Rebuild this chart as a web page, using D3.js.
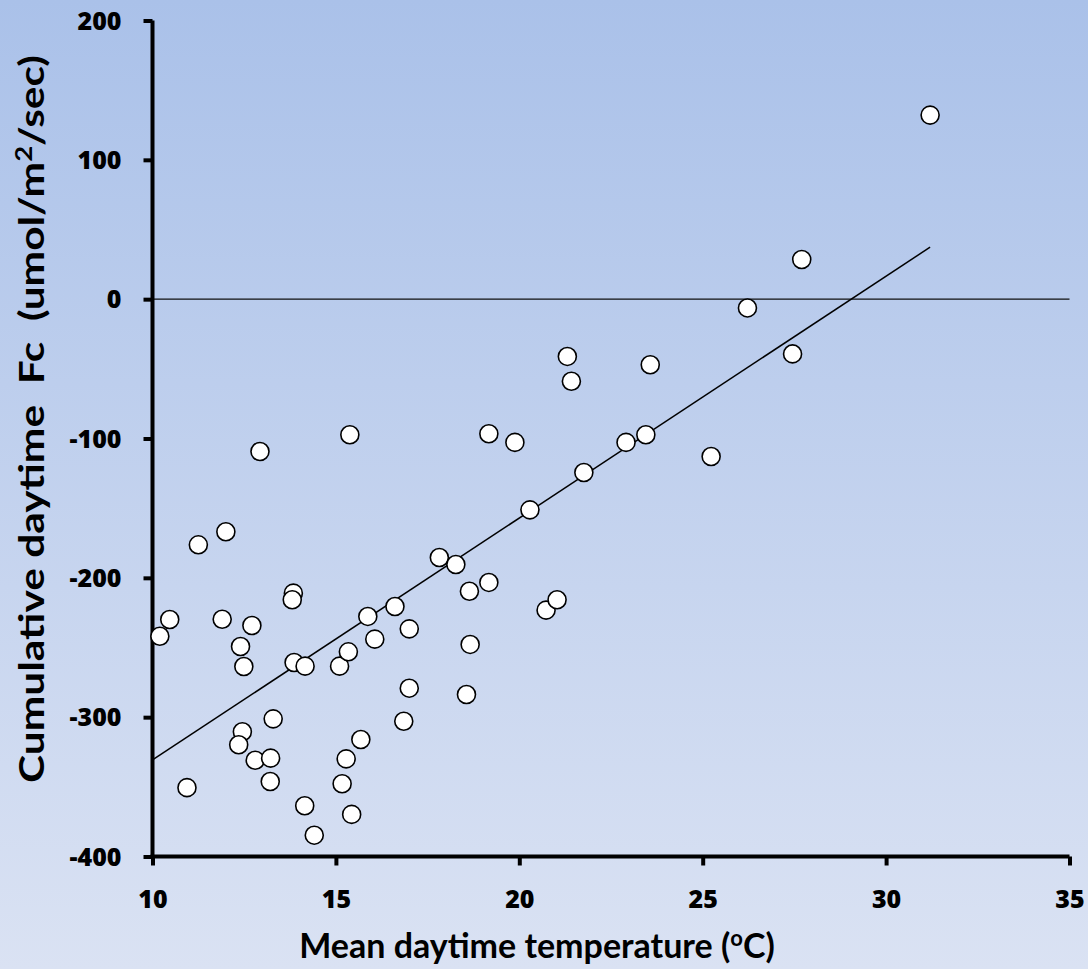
<!DOCTYPE html>
<html>
<head>
<meta charset="utf-8">
<script src="https://cdn.jsdelivr.net/npm/d3@7"></script>
<style>
  html, body { margin: 0; padding: 0; }
  body { width: 1088px; height: 969px; overflow: hidden; }
  text { font-family: Lato, "Open Sans", sans-serif; font-weight: bold; fill: #000; white-space: pre; }
</style>
</head>
<body>
<div id="viz"></div>
<script>
// mean daytime temperature (C)
var temps = [10.20, 10.47, 10.94, 11.25, 11.90, 12.00, 12.93, 12.71, 12.40, 12.49,
             12.45, 12.35, 12.80, 13.22, 13.29, 13.21, 13.84, 13.81, 13.86, 14.16,
             14.15, 14.41, 15.10, 15.34, 15.38, 15.17, 15.28, 15.43, 15.68, 15.87,
             16.06, 16.61, 17.00, 17.00, 16.85, 17.82, 18.27, 18.64, 18.66, 18.56,
             19.17, 19.17, 19.88, 20.29, 20.73, 21.03, 21.31, 21.42, 21.76, 22.91,
             23.45, 23.57, 25.23, 26.22, 27.45, 27.70, 31.20];
// cumulative daytime Fc
var fluxes = [-241.9, -229.9, -350.6, -176.3, -229.7, -166.9, -109.3, -234.2, -249.3, -263.6,
              -310.5, -319.8, -330.9, -329.4, -301.2, -346.2, -211.0, -215.7, -260.8, -263.4,
              -363.6, -384.7, -263.4, -253.1, -97.3, -347.8, -329.9, -369.8, -316.0, -227.7,
              -244.0, -220.6, -236.6, -279.2, -302.9, -185.4, -190.4, -209.6, -247.8, -283.7,
              -96.6, -203.3, -102.8, -151.2, -223.2, -215.7, -41.1, -58.9, -124.4, -102.8,
              -97.3, -47.1, -112.9, -6.3, -39.3, 28.5, 132.1];

var xTicks = [10, 15, 20, 25, 30, 35];
var yTicks = [-400, -300, -200, -100, 0, 100, 200];

// linear trend as drawn on the chart
var trendSlope = 17.36,
    trendIntercept = -504.3,
    trendRange = [10, 31.2];

var width = 1088,
    height = 969;

var x = d3.scaleLinear().domain([10, 35]).range([152.5, 1069.5]);
var y = d3.scaleLinear().domain([-400, 200]).range([856.5, 20.5]);

var svg = d3.select("#viz").append("svg")
    .attr("width", width)
    .attr("height", height);

var grad = svg.append("defs").append("linearGradient")
    .attr("id", "bg")
    .attr("x1", 0).attr("y1", 0).attr("x2", 0).attr("y2", 1);
grad.append("stop").attr("offset", "0%").attr("stop-color", "#aac1e9");
grad.append("stop").attr("offset", "100%").attr("stop-color", "#dae2f3");

svg.append("rect")
    .attr("width", width)
    .attr("height", height)
    .attr("fill", "url(#bg)");

// zero line
svg.append("line")
    .attr("x1", x(10)).attr("x2", x(35))
    .attr("y1", y(0)).attr("y2", y(0))
    .style("stroke", "#111")
    .style("stroke-width", 1.3);

// trend line
svg.append("line")
    .attr("x1", x(trendRange[0]))
    .attr("y1", y(trendSlope * trendRange[0] + trendIntercept))
    .attr("x2", x(trendRange[1]))
    .attr("y2", y(trendSlope * trendRange[1] + trendIntercept))
    .style("stroke", "#000")
    .style("stroke-width", 1.5);

// axes (plain hyphen for negatives, like the original)
var plain = function(d) { return String(d); };
var xAxis = svg.append("g")
    .attr("transform", "translate(0," + y(-400) + ")")
    .call(d3.axisBottom(x).tickValues(xTicks).tickFormat(plain)
            .tickSize(9).tickPadding(25).tickSizeOuter(0));
var yAxis = svg.append("g")
    .attr("transform", "translate(" + x(10) + ",0)")
    .call(d3.axisLeft(y).tickValues(yTicks).tickFormat(plain)
            .tickSize(9).tickPadding(22).tickSizeOuter(0));

[xAxis, yAxis].forEach(function(ax) {
    ax.select(".domain").style("stroke", "#000").style("stroke-width", 4);
    ax.selectAll(".tick line").style("stroke", "#000").style("stroke-width", 4);
    ax.selectAll(".tick text")
      .style("font-family", "'Open Sans', sans-serif")
      .style("font-weight", "800")
      .style("font-size", "25px")
      .style("fill", "#000");
});
xAxis.select(".domain").attr("d", "M" + (x(10) - 2) + ",0H" + x(35));
yAxis.select(".domain").attr("d", "M0," + y(200) + "V" + (y(-400) + 2));
yAxis.selectAll(".tick text").attr("dy", "0.34em");

// points
svg.append("g")
    .selectAll("circle")
    .data(temps)
    .enter()
    .append("circle")
    .attr("cx", function(d) { return x(d); })
    .attr("cy", function(d, i) { return y(fluxes[i]); })
    .attr("r", 9)
    .style("fill", "#fff")
    .style("stroke", "#000")
    .style("stroke-width", 1.6);

// axis titles
var xt = svg.append("text")
    .attr("x", 537)
    .attr("y", 958)
    .attr("text-anchor", "middle")
    .style("font-size", "34px");
xt.append("tspan").text("Mean daytime temperature (");
xt.append("tspan").attr("dy", -12).style("font-size", "22px").text("o");
xt.append("tspan").attr("dy", 12).text("C)");

var yt = svg.append("text")
    .attr("text-anchor", "middle")
    .style("font-size", "34px");
yt.append("tspan").text("Cumulative daytime  Fc  (umol/m");
yt.append("tspan").attr("dy", -12).style("font-size", "22px").text("2");
yt.append("tspan").attr("dy", 12).text("/sec)");
// the original title is drawn stretched along its length
var ytLen = yt.node().getComputedTextLength();
yt.attr("transform", "translate(44,419) rotate(-90) scale(" + (728 / ytLen) + ",1)");
</script>
</body>
</html>
